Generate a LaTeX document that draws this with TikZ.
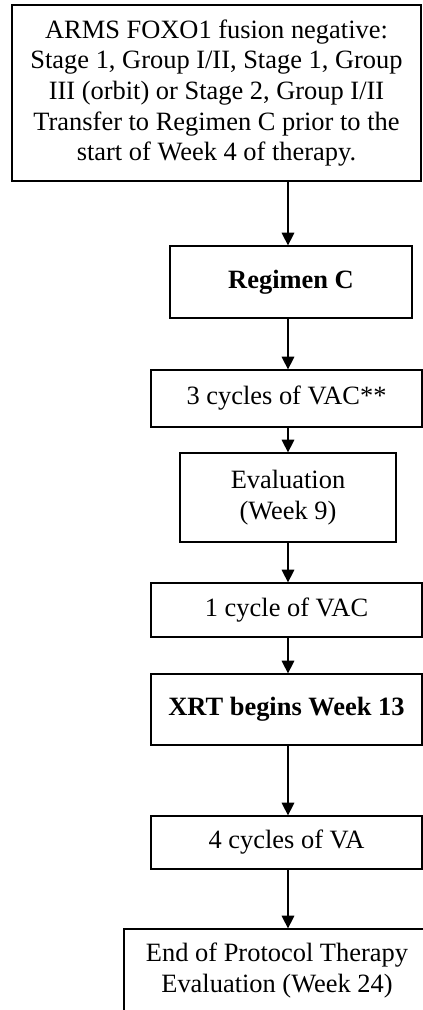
\documentclass[tikz,border=0pt]{standalone}
\usepackage{fontspec}
\setmainfont{Liberation Serif}
\usepackage{tikz}
\usetikzlibrary{arrows.meta}

\tikzset{
    flowbox/.style={draw, line width=0.9pt, align=center, inner sep=2pt,
        font=\fontsize{18.8}{21.8}\selectfont},
    flowarrow/.style={line width=0.9pt, -{Triangle[width=9pt,length=9pt]}}
}

\begin{document}
\begin{tikzpicture}
        % Fix the page to the size of the chart
        \clip (0,0) rectangle (10.575,-25.25);
        
        % Draw the boxes of the chart
        \node[flowbox, minimum width=10.225cm, minimum height=4.4cm] (b1) at (5.4125,-2.325)
            {ARMS FOXO1 fusion negative:\\ Stage 1, Group I/II, Stage 1, Group\\ III (orbit) or Stage 2, Group I/II\\ Transfer to Regimen C prior to the\\ start of Week 4 of therapy.};
        \node[flowbox, minimum width=6.05cm, minimum height=1.8cm] (b2) at (7.275,-7.05) {\textbf{Regimen C}};
        \node[flowbox, minimum width=6.775cm, minimum height=1.425cm] (b3) at (7.1625,-9.9625) {3 cycles of VAC**};
        \node[flowbox, minimum width=5.4cm, minimum height=2.225cm] (b4) at (7.2,-12.4375) {Evaluation\\ (Week 9)};
        \node[flowbox, minimum width=6.775cm, minimum height=1.35cm] (b5) at (7.1625,-15.25) {1 cycle of VAC};
        \node[flowbox, minimum width=6.775cm, minimum height=1.775cm] (b6) at (7.1625,-17.7375) {\textbf{XRT begins Week 13}};
        \node[flowbox, minimum width=6.775cm, minimum height=1.325cm] (b7) at (7.1625,-21.0625) {4 cycles of VA};
        \node[flowbox, minimum width=7.65cm, minimum height=2.075cm] (b8) at (6.925,-24.2625) {End of Protocol Therapy\\ Evaluation (Week 24)};
        
        % Draw the arrows between the boxes
        \coordinate (col) at (7.2,0);
        \draw[flowarrow] (b1.south -| col) -- (b2.north -| col);
        \draw[flowarrow] (b2.south -| col) -- (b3.north -| col);
        \draw[flowarrow] (b3.south -| col) -- (b4.north -| col);
        \draw[flowarrow] (b4.south -| col) -- (b5.north -| col);
        \draw[flowarrow] (b5.south -| col) -- (b6.north -| col);
        \draw[flowarrow] (b6.south -| col) -- (b7.north -| col);
        \draw[flowarrow] (b7.south -| col) -- (b8.north -| col);
    \end{tikzpicture}
\end{document}
